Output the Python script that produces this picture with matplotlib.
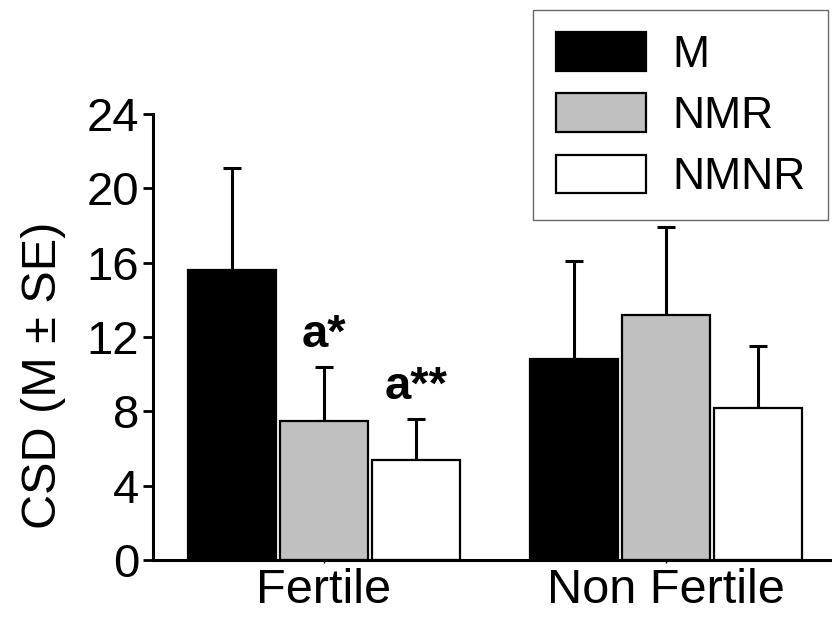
import matplotlib
matplotlib.use("Agg")
import matplotlib.pyplot as plt
import numpy as np

plt.rcParams['font.family'] = ['Liberation Sans', 'DejaVu Sans']

groups = ['Fertile', 'Non Fertile']
series = ['M', 'NMR', 'NMNR']
means = {
    'M':    [15.6, 10.8],
    'NMR':  [7.5, 13.2],
    'NMNR': [5.4, 8.2],
}
errors = {
    'M':    [5.5, 5.3],
    'NMR':  [2.9, 4.7],
    'NMNR': [2.2, 3.3],
}
# significance marks: (series, group index, label)
marks = [('NMR', 0, 'a*'), ('NMNR', 0, 'a**')]

colors = {'M': '#000000', 'NMR': '#c0c0c0', 'NMNR': '#ffffff'}

fig = plt.figure(figsize=(8.32, 6.19), dpi=100)
ax = fig.add_axes([0.1839, 0.0953, 0.816, 0.7205])

x = np.arange(len(groups))
width = 0.257
step = 0.269

for i, s in enumerate(series):
    pos = x + (i - 1) * step
    ax.bar(pos, means[s], width, color=colors[s], edgecolor='black',
           linewidth=1.6, label=s, zorder=2)
    ax.errorbar(pos, means[s], yerr=[np.zeros(len(groups)), errors[s]],
                fmt='none', ecolor='black', elinewidth=2.2, capsize=6.8,
                capthick=2.2, zorder=1)

for s, g, lab in marks:
    i = series.index(s)
    ax.text(x[g] + (i - 1) * step, means[s][g] + errors[s][g] + 0.5, lab,
            ha='center', va='bottom', fontsize=34, fontweight='bold')

ax.set_xlim(-0.5, 1.485)
ax.set_ylim(0, 24)
ax.set_yticks(np.arange(0, 25, 4))
ax.set_xticks(x)
ax.set_xticklabels(groups)
ax.set_ylabel('CSD (M ± SE)', fontsize=35)
ax.yaxis.set_label_coords(-0.128, 0.415)

for side in ['top', 'right']:
    ax.spines[side].set_visible(False)
for side in ['left', 'bottom']:
    ax.spines[side].set_linewidth(2.2)

ax.tick_params(axis='y', direction='out', length=7, width=2, labelsize=34, pad=3)
ax.tick_params(axis='x', direction='out', length=2, width=1, labelsize=35, pad=4)

leg = fig.legend(loc='upper right', bbox_to_anchor=(828 / 832, 1 - 10 / 619),
                 fontsize=32, frameon=True, fancybox=False, edgecolor='#444444',
                 handlelength=2.03, handleheight=0.95, handletextpad=0.6,
                 labelspacing=0.4, borderpad=0.5, borderaxespad=0)
leg.get_frame().set_linewidth(1.0)

fig.savefig('out.png', dpi=100)
